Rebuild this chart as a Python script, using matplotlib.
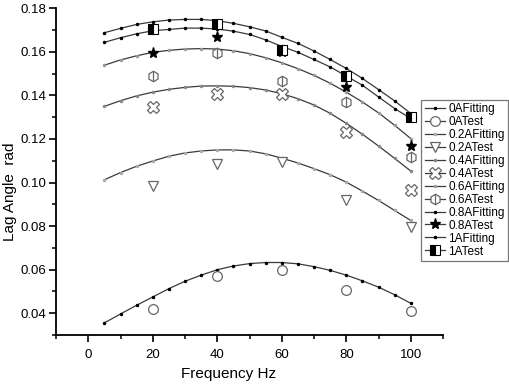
import matplotlib
matplotlib.use('Agg')
import matplotlib.pyplot as plt
from matplotlib.ticker import MultipleLocator
from matplotlib.lines import Line2D
from matplotlib.legend_handler import HandlerTuple

plt.rcParams['font.family'] = ['Liberation Sans', 'DejaVu Sans']

# fitted curves, sampled every 5 Hz
freq_fit = [5, 10, 15, 20, 25, 30, 35, 40, 45, 50, 55, 60, 65, 70, 75, 80, 85, 90, 95, 100]
fit_0A = [0.0356, 0.0397, 0.0437, 0.0475, 0.0513, 0.0547, 0.0575, 0.0600, 0.0617, 0.0628,
          0.0633, 0.0633, 0.0627, 0.0614, 0.0597, 0.0575, 0.0549, 0.0520, 0.0485, 0.0446]
fit_02A = [0.1013, 0.1046, 0.1075, 0.1099, 0.1121, 0.1136, 0.1145, 0.1150, 0.1150, 0.1145,
           0.1132, 0.1112, 0.1090, 0.1064, 0.1036, 0.1002, 0.0961, 0.0918, 0.0872, 0.0826]
fit_04A = [0.1350, 0.1376, 0.1398, 0.1415, 0.1428, 0.1437, 0.1443, 0.1444, 0.1442, 0.1436,
           0.1425, 0.1408, 0.1385, 0.1356, 0.1318, 0.1272, 0.1222, 0.1168, 0.1111, 0.1053]
fit_06A = [0.1539, 0.1563, 0.1582, 0.1598, 0.1607, 0.1613, 0.1615, 0.1613, 0.1605, 0.1592,
           0.1573, 0.1550, 0.1523, 0.1492, 0.1456, 0.1415, 0.1370, 0.1320, 0.1263, 0.1202]
fit_08A = [0.1644, 0.1665, 0.1683, 0.1697, 0.1703, 0.1709, 0.1709, 0.1705, 0.1695, 0.1680,
           0.1655, 0.1625, 0.1598, 0.1565, 0.1531, 0.1489, 0.1447, 0.1393, 0.1340, 0.1294]
fit_1A = [0.1688, 0.1708, 0.1726, 0.1738, 0.1746, 0.1749, 0.1749, 0.1743, 0.1731, 0.1715,
          0.1696, 0.1667, 0.1639, 0.1604, 0.1565, 0.1524, 0.1478, 0.1427, 0.1375, 0.1317]

# measured points
freq_test = [20, 40, 60, 80, 100]
test_0A = [0.0420, 0.0569, 0.0600, 0.0509, 0.0409]
test_02A = [0.0983, 0.1084, 0.1095, 0.0918, 0.0794]
test_04A = [0.1347, 0.1406, 0.1405, 0.1230, 0.0968]
test_06A = [0.1489, 0.1596, 0.1467, 0.1368, 0.1118]
test_08A = [0.1597, 0.1667, 0.1600, 0.1437, 0.1168]
test_1A = [0.1705, 0.1726, 0.1610, 0.1489, 0.1300]

fig = plt.figure(figsize=(5.1, 3.86), dpi=100)
ax = fig.add_axes([0.11, 0.132, 0.7586, 0.8465])

lc = '#3a3a3a'
gc = '#666666'
handles = []
labels = []

def fitline(y, dotc, lab):
    ax.plot(freq_fit, y, color=lc, lw=0.9, marker='.', ms=3, mfc=dotc, mec=dotc)
    handles.append(Line2D([], [], color=lc, lw=0.9, marker='.', ms=3, mfc=dotc, mec=dotc))
    labels.append(lab)

def testpts(y, lab, **kw):
    ax.plot(freq_test, y, ls='none', **kw)
    handles.append(Line2D([], [], color=lc, lw=0.9, **kw))
    labels.append(lab)

fitline(fit_0A, 'black', '0AFitting')
testpts(test_0A, '0ATest', marker='o', ms=7, mfc='white', mec=gc, mew=0.9)
fitline(fit_02A, '#aaaaaa', '0.2AFitting')
testpts(test_02A, '0.2ATest', marker='v', ms=7.5, mfc='white', mec=gc, mew=0.9)
fitline(fit_04A, '#888888', '0.4AFitting')
testpts(test_04A, '0.4ATest', marker='X', ms=8, mfc='white', mec=gc, mew=0.9)
fitline(fit_06A, '#999999', '0.6AFitting')
# hexagon with a vertical bar
ax.plot(freq_test, test_06A, ls='none', marker='h', ms=7.5, mfc='white', mec=gc, mew=0.9)
ax.plot(freq_test, test_06A, ls='none', marker='|', ms=7, mec=gc, mew=0.9)
handles.append((Line2D([], [], color=lc, lw=0.9, marker='h', ms=7.5, mfc='white', mec=gc, mew=0.9),
                Line2D([], [], ls='none', marker='|', ms=7, mec=gc, mew=0.9)))
labels.append('0.6ATest')
fitline(fit_08A, 'black', '0.8AFitting')
testpts(test_08A, '0.8ATest', marker='*', ms=8, mfc='black', mec='black')
fitline(fit_1A, 'black', '1AFitting')
testpts(test_1A, '1ATest', marker='s', ms=6.5, fillstyle='left', mfc='black',
        mfcalt='white', mec='black', mew=0.8)

ax.set_xlim(-10, 110)
ax.set_ylim(0.03, 0.18)
ax.xaxis.set_major_locator(MultipleLocator(20))
ax.xaxis.set_minor_locator(MultipleLocator(10))
ax.yaxis.set_minor_locator(MultipleLocator(0.01))
ax.set_yticks([0.04, 0.06, 0.08, 0.10, 0.12, 0.14, 0.16, 0.18])
ax.set_yticklabels(['0.04', '0.06', '0.08', '0.10', '0.12', '0.14', '0.16', '0.18'])
ax.spines['top'].set_visible(False)
ax.spines['right'].set_visible(False)
for s in ['left', 'bottom']:
    ax.spines[s].set_linewidth(1.3)
ax.tick_params(which='major', direction='out', length=5, width=1.2, labelsize=9.5, pad=2)
ax.tick_params(axis='x', which='major', pad=5)
ax.tick_params(which='minor', direction='out', length=3, width=1.1)
ax.set_xlabel('Frequency Hz', fontsize=11)
ax.xaxis.set_label_coords(0.447, -0.098)
ax.set_ylabel('Lag Angle  rad', fontsize=11)
ax.yaxis.set_label_coords(-0.1, 0.44)

leg = fig.legend(handles, labels, loc='upper right', bbox_to_anchor=(0.997, 0.742),
                 fontsize=8.5, frameon=True, fancybox=False, edgecolor='#555555',
                 labelspacing=0.08, handlelength=1.7, handletextpad=0.3,
                 borderpad=0.3, borderaxespad=0, numpoints=1,
                 handler_map={tuple: HandlerTuple(ndivide=1)})
leg.get_frame().set_linewidth(0.9)

fig.savefig('out.png', dpi=100)
